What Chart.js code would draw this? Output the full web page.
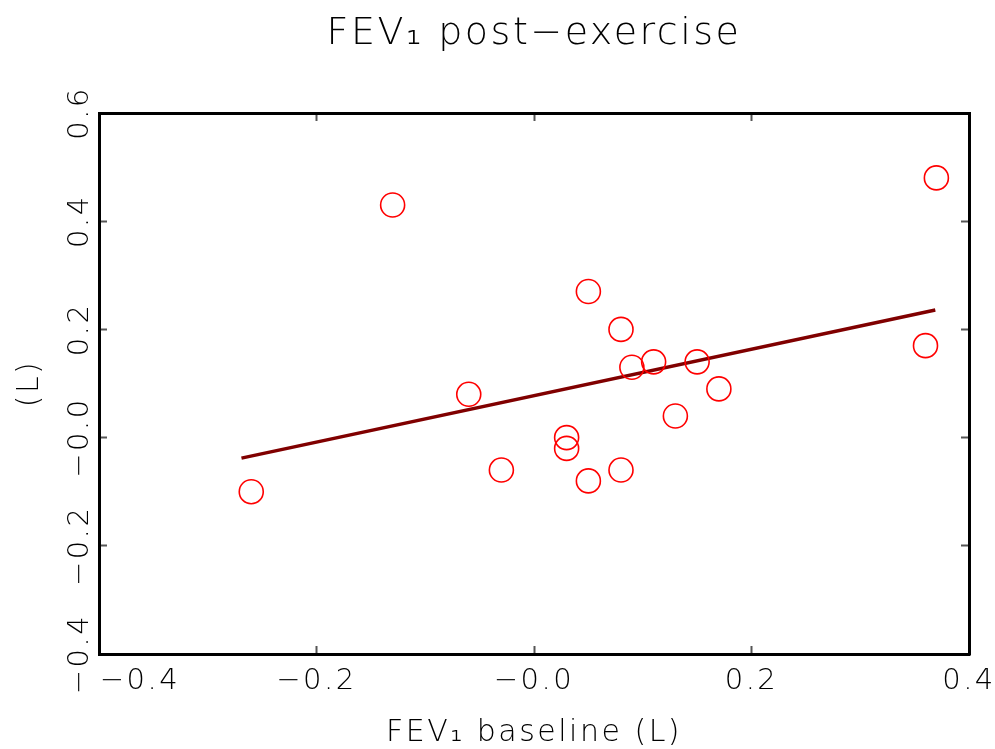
<!DOCTYPE html>
<html>
<head>
<meta charset="utf-8">
<script src="https://cdn.jsdelivr.net/npm/chart.js@4/dist/chart.umd.min.js"></script>
<style>
html,body{margin:0;padding:0;background:#fff;}
#wrap{width:995px;height:749px;position:relative;}
</style>
</head>
<body>
<div id="wrap"><canvas id="c" width="995" height="749"></canvas></div>
<script>
// Data
const xValues = [-0.26, -0.13, -0.06, -0.03, 0.03, 0.03, 0.05, 0.05, 0.08, 0.08, 0.09, 0.11, 0.13, 0.15, 0.17, 0.36, 0.37];
const yValues = [-0.10, 0.43, 0.08, -0.06, 0.00, -0.02, 0.27, -0.08, 0.20, -0.06, 0.13, 0.14, 0.04, 0.14, 0.09, 0.17, 0.48];
const fitX = [-0.269, 0.369];
const fitY = [-0.038, 0.236];
// first label is shifted right (inside the axis) in the reference, hence the leading spaces
const xTickLabels = ['       \u22120.4', '\u22120.2', '\u22120.0', '0.2', '0.4'];
const yTickLabels = ['\u22120.4', '\u22120.2', '\u22120.0', '0.2', '0.4', '0.6'];
const titleText = 'FEV\u2081 post\u2212exercise';
const xTitle = 'FEV\u2081 baseline (L)';
const yTitle = '(L)';

const FAM = '"DejaVu Sans", sans-serif';
const tickFont = {family: FAM, size: 29, weight: '200'};

const spacingPlugin = {
  id: 'spacing',
  beforeUpdate(chart){ chart.ctx.letterSpacing = '2.5px'; },
  beforeLayout(chart){ chart.ctx.letterSpacing = '2.5px'; },
  beforeDraw(chart){ chart.ctx.letterSpacing = '2.5px'; }
};

const gridOpts = {drawOnChartArea: false, drawTicks: true, tickLength: -8, tickColor: '#555', tickWidth: 2};
const borderOpts = {display: true, color: '#000', width: 3};

function fixX(h){ return s => { s.height = h; s.paddingLeft = 0; s.paddingRight = 0; }; }
function fixY(w){ return s => { s.width = w; s.paddingTop = 0; s.paddingBottom = 0; }; }

new Chart(document.getElementById('c'), {
  type: 'scatter',
  data: {
    datasets: [
      {
        type: 'scatter',
        data: xValues.map((x, i) => ({x: x, y: yValues[i]})),
        pointStyle: 'circle',
        pointRadius: 12,
        pointBorderColor: '#ff0000',
        pointBackgroundColor: 'rgba(0,0,0,0)',
        pointBorderWidth: 1.6,
        order: 1
      },
      {
        type: 'line',
        data: fitX.map((x, i) => ({x: x, y: fitY[i]})),
        borderColor: '#800000',
        borderWidth: 3.5,
        pointRadius: 0,
        showLine: true,
        fill: false,
        order: 2
      }
    ]
  },
  options: {
    responsive: false,
    animation: false,
    events: [],
    layout: {padding: 0},
    plugins: {legend: {display: false}, title: {display: false}, tooltip: {enabled: false}},
    scales: {
      x: {
        type: 'linear', position: 'bottom', min: -0.4, max: 0.4,
        ticks: {stepSize: 0.2, color: '#000', font: tickFont, padding: 18, maxRotation: 0, minRotation: 0,
                callback: (v, i) => xTickLabels[i]},
        grid: gridOpts, border: borderOpts,
        title: {display: true, text: xTitle, color: '#000', font: {family: FAM, size: 30, weight: '200', lineHeight: 1.0}, padding: {top: 0, bottom: 1}},
        afterFit: fixX(95)
      },
      x2: {
        type: 'linear', axis: 'x', position: 'top', min: -0.4, max: 0.4,
        ticks: {stepSize: 0.2, display: false},
        grid: gridOpts, border: borderOpts,
        title: {display: true, text: titleText, color: '#000', font: {family: FAM, size: 38, weight: '200', lineHeight: 1.2}, padding: {top: 11, bottom: 0}},
        afterFit: fixX(113)
      },
      y: {
        type: 'linear', position: 'left', min: -0.4, max: 0.6,
        ticks: {stepSize: 0.2, color: '#000', font: tickFont, padding: -14, minRotation: 90, maxRotation: 90, crossAlign: 'center',
                callback: (v, i) => yTickLabels[i]},
        grid: gridOpts, border: borderOpts,
        title: {display: true, text: yTitle, color: '#000', font: {family: FAM, size: 30, weight: '200', lineHeight: 1.0}, padding: {top: 15, bottom: 0}},
        afterFit: fixY(99)
      },
      y2: {
        type: 'linear', axis: 'y', position: 'right', min: -0.4, max: 0.6,
        ticks: {stepSize: 0.2, display: false},
        grid: gridOpts, border: borderOpts,
        afterFit: fixY(26)
      }
    }
  },
  plugins: [spacingPlugin]
});
</script>
</body>
</html>
